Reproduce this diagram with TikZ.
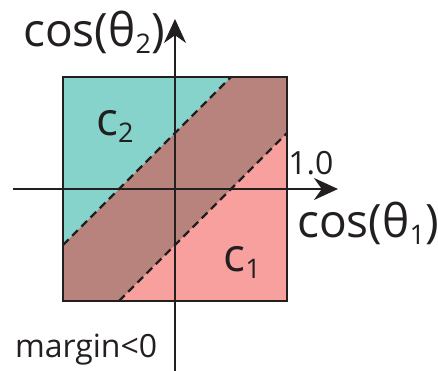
\documentclass[tikz,border=0pt]{standalone}
\usepackage{fontspec}
\setmainfont{Open Sans}
\usetikzlibrary{arrows.meta}
\definecolor{classtwo}{RGB}{134,211,204}
\definecolor{overlap}{RGB}{184,131,124}
\definecolor{classone}{RGB}{247,160,157}
\definecolor{ink}{RGB}{35,31,32}
\newcommand{\lowidx}[1]{\raisebox{-7pt}{\fontsize{27}{27}\selectfont #1}}
\tikzset{
  axis/.style={ink, line width=2pt, -{Stealth[length=24pt,width=22pt]}},
  bound/.style={ink, line width=2.4pt, dash pattern=on 8pt off 5pt},
  lbl/.style={inner sep=0pt, text=ink},
  big/.style={lbl, font=\fontsize{46}{52}\selectfont},
  small/.style={lbl, font=\fontsize{32}{38}\selectfont}
}
\begin{document}
\begin{tikzpicture}[x=112pt, y=112pt]
    \useasboundingbox (-1.5625,-1.625) rectangle (2.3482,1.6875);

    % Corners of the square
    \coordinate (sw) at (-1,-1);
    \coordinate (ne) at (1,1);

    % Regions
    \fill[overlap] (sw) rectangle (ne);
    \fill[classtwo] (-1,-0.5) -- (-1,1) -- (0.5,1) -- cycle;
    \fill[classone] (-0.5,-1) -- (1,-1) -- (1,0.5) -- cycle;

    % Decision boundaries
    \coordinate (upa) at (-1,-0.5);
    \coordinate (upb) at (0.5,1);
    \coordinate (loa) at (-0.5,-1);
    \coordinate (lob) at (1,0.5);
    \draw[bound] (upa) -- (upb);
    \draw[bound] (loa) -- (lob);

    \draw[ink, line width=2.5pt] (sw) rectangle (ne);

    % Axes
    \coordinate (xstart) at (-1.446,0);
    \coordinate (xend) at (1.455,0);
    \coordinate (ystart) at (0,-1.625);
    \coordinate (yend) at (0,1.518);
    \draw[axis] (xstart) -- (xend);
    \draw[axis] (ystart) -- (yend);

    % Labels
    \node (ylab) [big, anchor=base east] at (-0.09,1.268) {cos(θ\lowidx{2})};
    \node (xlab) [big, anchor=base west] at (1.09,-0.43) {cos(θ\lowidx{1})};
    \node (one) [small, anchor=base west] at (1.01,0.125) {1.0};
    \node (ctwo) [big, anchor=base west] at (-0.705,0.482) {c\lowidx{2}};
    \node (cone) [big, anchor=base west] at (0.43,-0.741) {c\lowidx{1}};
    \node (marg) [small, anchor=base west] at (-1.43,-1.5) {margin<0};
\end{tikzpicture}
\end{document}
